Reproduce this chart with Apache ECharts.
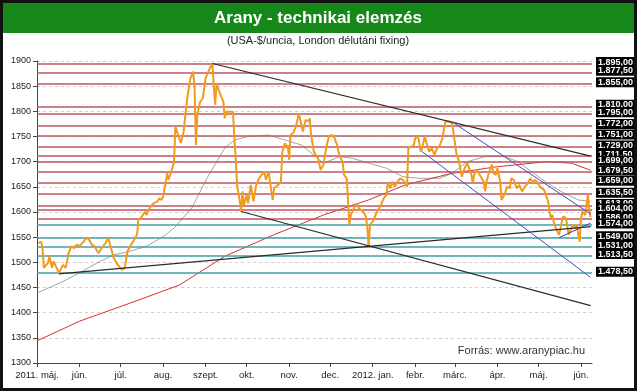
<!DOCTYPE html>
<html><head><meta charset="utf-8">
<script src="https://cdn.jsdelivr.net/npm/echarts@6/dist/echarts.min.js"></script>
<style>html,body{margin:0;padding:0;background:#fff}#c{width:637px;height:391px}</style>
</head><body><div id="c"></div>
<script>
// ---------- DATA ----------
const priceDates = ['2011-05-02','2011-05-04','2011-05-05','2011-05-06','2011-05-09','2011-05-10','2011-05-12','2011-05-13','2011-05-15','2011-05-17','2011-05-20','2011-05-22','2011-05-24','2011-05-26','2011-05-28','2011-05-30',
'2011-06-01','2011-06-04','2011-06-06','2011-06-08','2011-06-10','2011-06-12','2011-06-14','2011-06-15','2011-06-17','2011-06-20','2011-06-22','2011-06-23','2011-06-26','2011-06-28','2011-06-29',
'2011-07-02','2011-07-04','2011-07-06','2011-07-08','2011-07-10','2011-07-13','2011-07-14','2011-07-16','2011-07-19','2011-07-20','2011-07-21','2011-07-23','2011-07-25','2011-07-28','2011-07-29','2011-07-31',
'2011-08-01','2011-08-03','2011-08-04','2011-08-05','2011-08-07','2011-08-09','2011-08-10','2011-08-11','2011-08-12','2011-08-14','2011-08-16','2011-08-17','2011-08-19','2011-08-21','2011-08-23','2011-08-24','2011-08-25','2011-08-26','2011-08-28','2011-08-30',
'2011-09-01','2011-09-04','2011-09-06','2011-09-07','2011-09-08','2011-09-09','2011-09-11','2011-09-14','2011-09-15','2011-09-16','2011-09-19','2011-09-21','2011-09-22','2011-09-23','2011-09-24','2011-09-26','2011-09-27','2011-09-28','2011-09-29',
'2011-10-01','2011-10-02','2011-10-04','2011-10-06','2011-10-08','2011-10-10','2011-10-12','2011-10-14','2011-10-15','2011-10-17','2011-10-18','2011-10-19','2011-10-20','2011-10-21','2011-10-24','2011-10-26','2011-10-27','2011-10-29','2011-10-30','2011-10-31',
'2011-11-01','2011-11-02','2011-11-04','2011-11-06','2011-11-08','2011-11-10','2011-11-11','2011-11-13','2011-11-15','2011-11-16','2011-11-17','2011-11-19','2011-11-22','2011-11-24','2011-11-26','2011-11-28','2011-11-30',
'2011-12-02','2011-12-04','2011-12-06','2011-12-07','2011-12-08','2011-12-10','2011-12-11','2011-12-13','2011-12-14','2011-12-15','2011-12-16','2011-12-17','2011-12-19','2011-12-20','2011-12-22','2011-12-23','2011-12-25','2011-12-27','2011-12-28','2011-12-29','2011-12-30',
'2012-01-01','2012-01-03','2012-01-05','2012-01-07','2012-01-09','2012-01-11','2012-01-12','2012-01-14','2012-01-15','2012-01-17','2012-01-19','2012-01-21','2012-01-23','2012-01-25','2012-01-26','2012-01-27','2012-01-29','2012-01-31',
'2012-02-01','2012-02-03','2012-02-04','2012-02-05','2012-02-06','2012-02-08','2012-02-09','2012-02-11','2012-02-13','2012-02-15','2012-02-17','2012-02-19','2012-02-21','2012-02-22','2012-02-23','2012-02-26','2012-02-28','2012-02-29',
'2012-03-02','2012-03-04','2012-03-06','2012-03-08','2012-03-10','2012-03-13','2012-03-14','2012-03-15','2012-03-17','2012-03-19','2012-03-20','2012-03-22','2012-03-23','2012-03-24','2012-03-26','2012-03-28','2012-03-29','2012-03-31',
'2012-04-01','2012-04-03','2012-04-04','2012-04-06','2012-04-08','2012-04-10','2012-04-11','2012-04-13','2012-04-15','2012-04-17','2012-04-19','2012-04-21','2012-04-23','2012-04-25','2012-04-27','2012-04-28','2012-04-30',
'2012-05-02','2012-05-03','2012-05-05','2012-05-06','2012-05-08','2012-05-09','2012-05-10','2012-05-11','2012-05-12','2012-05-14','2012-05-16','2012-05-18','2012-05-19','2012-05-21','2012-05-22','2012-05-23','2012-05-25','2012-05-26','2012-05-28','2012-05-29','2012-05-30','2012-05-31',
'2012-06-01','2012-06-02','2012-06-03','2012-06-04','2012-06-06','2012-06-07','2012-06-08'];
const priceValues = [1538,1541,1529,1489,1499,1512,1489,1502,1491,1479,1495,1489,1518,1532,1528,1535,
1532,1541,1549,1545,1535,1532,1522,1518,1528,1538,1549,1551,1508,1499,1495,
1485,1489,1522,1532,1541,1555,1585,1589,1601,1594,1601,1611,1617,1621,1627,1624,
1631,1660,1677,1664,1680,1700,1770,1773,1753,1737,1760,1786,1833,1866,1879,1845,1733,1793,1819,1826,
1866,1885,1895,1850,1813,1856,1839,1819,1786,1799,1799,1799,1747,1707,1654,1621,1601,1641,1614,
1634,1617,1654,1621,1654,1667,1674,1680,1664,1680,1680,1641,1624,1647,1654,1660,1720,1737,1727,1733,
1704,1753,1757,1770,1796,1773,1760,1783,1780,1786,1753,1720,1707,1684,1694,1727,1750,
1753,1748,1733,1720,1710,1700,1674,1667,1621,1575,1594,1591,1611,1617,1607,1604,1601,1591,1571,1531,1575,
1581,1594,1604,1614,1627,1634,1657,1647,1660,1650,1660,1667,1664,1657,1650,1727,1730,1733,
1747,1750,1737,1720,1727,1750,1740,1720,1727,1714,1727,1733,1747,1766,1780,1780,1776,1773,
1717,1700,1670,1687,1697,1674,1657,1674,1684,1674,1677,1660,1641,1660,1680,1694,1677,1674,
1687,1660,1624,1634,1650,1647,1667,1664,1647,1654,1641,1650,1657,1667,1657,1664,1660,
1650,1647,1644,1641,1621,1601,1588,1594,1581,1565,1555,1581,1591,1588,1591,1555,1568,1575,1568,1575,1555,1541,
1588,1601,1601,1594,1634,1601,1590];

const ma200Dates = ['2011-05-01','2011-06-01','2011-07-08','2011-08-13','2011-09-15','2011-10-21','2011-11-26','2011-12-29','2012-01-25','2012-02-28','2012-04-01','2012-05-07','2012-05-25','2012-06-08'];
const ma200Values = [1344,1383,1419,1455,1512,1555,1594,1624,1654,1677,1690,1700,1697,1683];

const ma50Dates = ['2011-05-01','2011-05-20','2011-06-01','2011-06-14','2011-06-26','2011-07-08','2011-07-20','2011-08-01','2011-08-09','2011-08-22','2011-09-02','2011-09-15','2011-09-22','2011-10-02','2011-10-17','2011-10-29','2011-11-10','2011-11-19','2011-11-26','2011-12-08','2011-12-17','2011-12-29','2012-01-11','2012-01-23','2012-02-04','2012-02-19','2012-02-28','2012-03-10','2012-03-23','2012-04-06','2012-04-16','2012-05-01','2012-05-11','2012-05-20','2012-05-30','2012-06-08'];
const ma50Values = [1439,1462,1479,1499,1515,1522,1532,1551,1568,1608,1667,1727,1743,1750,1753,1743,1733,1713,1697,1710,1707,1697,1687,1670,1667,1667,1677,1700,1710,1710,1700,1670,1651,1637,1624,1621];

const trendTopDates = ['2011-09-06','2012-06-08'];    const trendTopValues = [1895,1711];
const trendLowDates = ['2011-09-27','2012-06-08'];    const trendLowValues = [1601,1414];
const supportDates = ['2011-05-17','2012-06-08'];     const supportValues = [1477,1571];
const blueUpperDates = ['2012-02-28','2012-06-08'];   const blueUpperValues = [1779,1596];
const blueLowerDates = ['2012-02-06','2012-06-08'];   const blueLowerValues = [1720,1470];
const blueShortDates = ['2012-05-16','2012-06-08'];   const blueShortValues = [1549,1578];

const resistanceLevels = [1895,1877.5,1855,1810,1795,1772,1751,1729,1711.5,1699,1679.5,1659,1635.5,1613,1604,1586];
const supportLevels = [1574,1549,1531,1513.5,1478.5];

const monthStarts = ['2011-05-01','2011-06-01','2011-07-01','2011-08-01','2011-09-01','2011-10-01','2011-11-01','2011-12-01','2012-01-01','2012-02-01','2012-03-01','2012-04-01','2012-05-01','2012-06-01'];
const monthLabels = ['2011. máj.','jún.','júl.','aug.','szept.','okt.','nov.','dec.','2012. jan.','febr.','márc.','ápr.','máj.','jún.'];

const titleText = 'Arany - technikai elemzés';
const subtitleText = '(USA-$/uncia, London délutáni fixing)';
const sourceText = 'Forrás: www.aranypiac.hu';

// ---------- CHART ----------
const ts = s => +echarts.number.parseDate(s);
const pairs = (d, v) => d.map((s, i) => [ts(s), v[i]]);
const tickTimes = monthStarts.map(ts);
const fmt = v => { const p = v.toFixed(2).split('.'); return p[0].replace(/\B(?=(\d{3})+(?!\d))/g, '.') + ',' + p[1]; };
const FONT = '"Liberation Sans", Arial, sans-serif';

const chart = echarts.init(document.getElementById('c'), null, {renderer: 'canvas'});
const lineS = (name, d, v, color, width, z) => ({
  name, type: 'line', data: pairs(d, v), showSymbol: false, symbol: 'none', silent: true,
  lineStyle: {color, width}, z, animation: false
});

const option = {
  backgroundColor: '#fff',
  animation: false,
  grid: {left: 37, right: 45, top: 61, bottom: 28},
  xAxis: {
    type: 'value', min: ts('2011-05-01'), max: ts('2012-06-09'),
    axisLine: {lineStyle: {color: '#444', width: 1}},
    axisTick: {show: true, length: 4, customValues: tickTimes, lineStyle: {color: '#444'}},
    axisLabel: {customValues: tickTimes, color: '#222', fontSize: 9.5, fontFamily: FONT, margin: 7,
      formatter: v => { const i = tickTimes.indexOf(v); return i >= 0 ? monthLabels[i] : ''; }},
    splitLine: {show: false, lineStyle: {width: 0, opacity: 0}},
    minorSplitLine: {show: false},
    splitArea: {show: false}
  },
  yAxis: {
    type: 'value', min: 1300, max: 1900, interval: 50,
    axisLine: {show: true, lineStyle: {color: '#444', width: 1}},
    axisTick: {show: true, length: 4, lineStyle: {color: '#444'}},
    axisLabel: {color: '#222', fontSize: 9, fontFamily: FONT, margin: 6, formatter: v => String(v)},
    splitLine: {show: true, lineStyle: {color: '#cfcfcf', type: [3, 3], width: 1}}
  },
  series: [
    {
      name: 'levels', type: 'line', data: [], silent: true, z: 1, animation: false,
      markLine: {
        silent: true, symbol: 'none', animation: false, label: {show: false},
        data: resistanceLevels.map(v => ({yAxis: v, lineStyle: {color: '#b8585c', width: 1.6, type: 'solid'}}))
          .concat(supportLevels.map(v => ({yAxis: v, lineStyle: {color: '#45a0a2', width: 1.6, type: 'solid'}})))
      }
    },
    lineS('ma50', ma50Dates, ma50Values, '#8c8c8c', 0.8, 3),
    lineS('ma200', ma200Dates, ma200Values, '#d83030', 1, 3),
    lineS('price', priceDates, priceValues, '#f29a1c', 2, 5),
    lineS('trendTop', trendTopDates, trendTopValues, '#2b2b2b', 1.2, 6),
    lineS('trendLow', trendLowDates, trendLowValues, '#2b2b2b', 1.2, 6),
    lineS('support', supportDates, supportValues, '#2b2b2b', 1.2, 6),
    lineS('blueUpper', blueUpperDates, blueUpperValues, '#4848c8', 1, 6),
    lineS('blueLower', blueLowerDates, blueLowerValues, '#4848c8', 1, 6),
    lineS('blueShort', blueShortDates, blueShortValues, '#3c3cb0', 1, 6)
  ]
};
chart.setOption(option);

const graphics = [
  {type: 'rect', shape: {x: 3, y: 3, width: 631, height: 30}, style: {fill: '#16881a'}, z: 10},
  {type: 'text', x: 318, y: 18, style: {text: titleText, fill: '#fff', font: 'bold 17px ' + FONT, align: 'center', verticalAlign: 'middle'}, z: 11},
  {type: 'text', x: 318, y: 41, style: {text: subtitleText, fill: '#222', font: '11px ' + FONT, align: 'center', verticalAlign: 'middle'}, z: 11},
  {type: 'text', x: 585, y: 351, style: {text: sourceText, fill: '#333', font: '11px ' + FONT, align: 'right', verticalAlign: 'middle'}, z: 11}
];
resistanceLevels.concat(supportLevels).sort((a, b) => b - a).forEach(v => {
  const y = chart.convertToPixel({yAxisIndex: 0}, v);
  graphics.push({type: 'text', x: 596, y: y - 1.5, z: 20,
    style: {text: fmt(v), fill: '#fff', font: 'bold 9px ' + FONT, backgroundColor: '#000', padding: [1, 2, 0, 2], align: 'left', verticalAlign: 'middle'}});
});
graphics.push({type: 'rect', shape: {x: 1.5, y: 1.5, width: 634, height: 388}, style: {fill: null, stroke: '#111', lineWidth: 3}, z: 50});
chart.setOption({graphic: graphics});
</script></body></html>
